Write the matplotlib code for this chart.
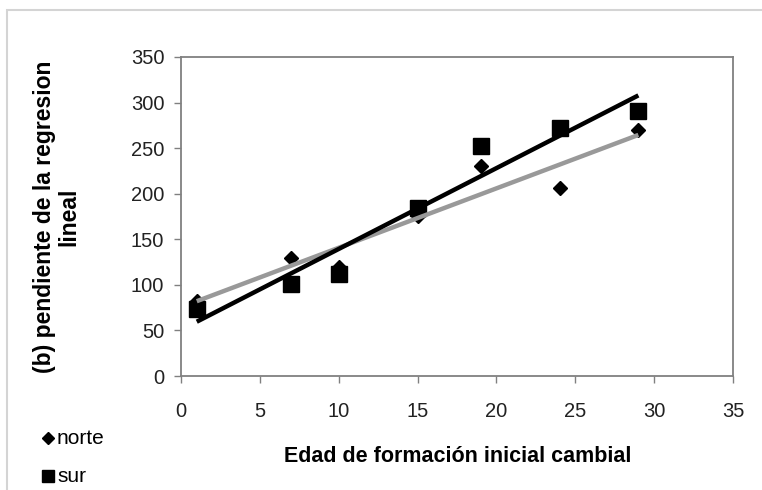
import matplotlib.pyplot as plt
import matplotlib.patches as patches
from matplotlib.lines import Line2D
import numpy as np

plt.rcParams["font.family"] = ["Liberation Sans", "DejaVu Sans"]

edad = [1, 7, 10, 15, 19, 24, 29]
norte = [82, 130, 120, 175, 230, 206, 270]
sur = [74, 101, 112, 184, 252, 272, 291]

xticks = [0, 5, 10, 15, 20, 25, 30, 35]
yticks = [0, 50, 100, 150, 200, 250, 300, 350]

fig = plt.figure(figsize=(7.62, 4.90), dpi=100)
ax = fig.add_axes([181 / 762, 1 - 376 / 490, (733 - 181) / 762, (376 - 57) / 490])

# outer light border like the spreadsheet chart area
fig.patches.append(patches.Rectangle((7 / 762, -0.1), 1.2, 1 - 10 / 490 + 0.1,
                                     transform=fig.transFigure, fill=False,
                                     edgecolor="#d4d4d4", linewidth=1.5))

ax.plot(edad, norte, linestyle="none", marker="D", markersize=7.5,
        color="black", zorder=3)
ax.plot(edad, sur, linestyle="none", marker="s", markersize=12,
        color="black", zorder=3)

# linear trendlines
xs = np.array([edad[0], edad[-1]])
pn = np.polyfit(edad, norte, 1)
ps = np.polyfit(edad, sur, 1)
ax.plot(xs, np.polyval(pn, xs), color="#999999", linewidth=3.2, zorder=4,
        solid_capstyle="butt")
ax.plot(xs, np.polyval(ps, xs), color="black", linewidth=3.2, zorder=5,
        solid_capstyle="butt")

ax.set_xlim(0, 35)
ax.set_ylim(0, 350)
ax.set_xticks(xticks)
ax.set_yticks(yticks)
ax.tick_params(direction="out", length=5, width=1, color="#808080",
               labelsize=14.5, labelcolor="#222222")
ax.tick_params(axis="x", pad=14)
ax.tick_params(axis="y", pad=7)
for s in ax.spines.values():
    s.set_color("#808080")
    s.set_linewidth(1.3)

ax.set_ylabel("(b) pendiente de la regresion\nlineal", fontsize=16.5,
              fontweight="bold", linespacing=1.05)
ax.yaxis.set_label_coords(-0.183, 0.5)
fig.text(458 / 762, 1 - 456 / 490, "Edad de formación inicial cambial",
         fontsize=15.5, fontweight="bold", ha="center", va="center")

# legend below the plot on the left
fig.add_artist(Line2D([48 / 762], [1 - 438 / 490], marker="D", markersize=6,
                      color="black", linestyle="none",
                      transform=fig.transFigure))
fig.text(57 / 762, 1 - 438 / 490, "norte", fontsize=15, va="center")
fig.add_artist(Line2D([48 / 762], [1 - 476 / 490], marker="s", markersize=8,
                      color="black", linestyle="none",
                      transform=fig.transFigure))
fig.text(57 / 762, 1 - 476 / 490, "sur", fontsize=15, va="center")

fig.savefig("out.png", dpi=100)
